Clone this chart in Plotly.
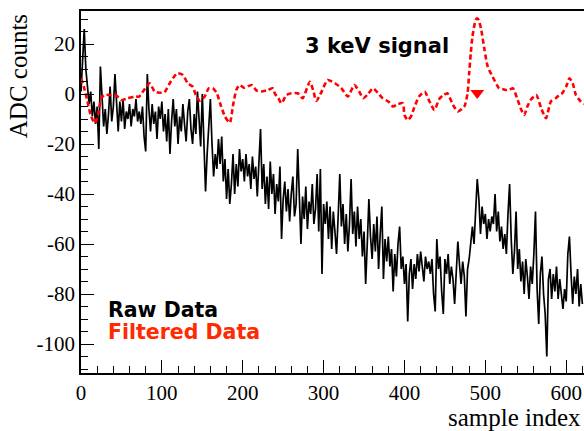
import plotly.graph_objects as go

# ---------------- data ----------------
raw_step = 2
raw_values = [
    1, 14, 26, 10, 3, -4, 1, -9, -3, -12, -5, -22, 11, -2, -13, -6, -16, -8, 3, -11,
    -5, 8, -4, -15, -3, -11, -2, -14, -7, -10, -4, -13, -6, -9, -2, -11, -7, -12, -5, -17,
    -23, 8, -6, -15, -4, -12, -7, -18, -5, -10, -3, -15, -8, -19, -6, -24, -11, -2, -13, -6,
    -20, -9, -15, -4, -12, -19, -7, -2, -14, -20, -8, -16, 1, -12, -21, 0, -18, -39, -24, -12,
    -2, -20, -33, -24, -30, -18, -28, -17, -35, -26, -42, -30, -44, -36, -24, -40, -28, -37, -22, -31,
    -26, -35, -24, -33, -28, -38, -25, -34, -29, -41, -30, -14, -38, -28, -44, -33, -46, -27, -40, -32,
    -48, -36, -43, -29, -58, -42, -35, -47, -38, -51, -40, -33, -49, -44, -22, -45, -60, -41, -50, -37,
    -54, -43, -48, -36, -52, -46, -32, -55, -30, -72, -44, -52, -43, -58, -45, -62, -47, -55, -64, -49,
    -32, -53, -44, -60, -48, -63, -52, -34, -56, -47, -61, -45, -58, -50, -65, -55, -76, -60, -42, -57,
    -66, -52, -63, -49, -70, -56, -45, -74, -58, -67, -57, -69, -62, -79, -64, -73, -60, -53, -70, -65,
    -76, -68, -91, -72, -66, -78, -68, -74, -64, -71, -63, -69, -75, -65, -70, -67, -72, -66, -80, -87,
    -58, -70, -65, -79, -88, -66, -72, -64, -76, -69, -74, -84, -70, -59, -68, -76, -67, -73, -89, -70,
    -66, -58, -53, -60, -47, -34, -42, -56, -45, -52, -48, -58, -50, -55, -49, -52, -40, -55, -47, -59,
    -53, -62, -56, -64, -48, -36, -58, -72, -63, -47, -70, -62, -75, -67, -80, -66, -73, -82, -69, -76,
    -64, -47, -78, -92, -72, -65, -80, -88, -105, -74, -70, -82, -72, -79, -69, -82, -74, -80, -86, -78,
    -83, -64, -57, -72, -84, -73, -80, -70, -85, -76, -84,
]
raw_x = [i * raw_step for i in range(len(raw_values))]

filtered_x = [
    0, 4, 8, 12, 17, 21, 25, 29, 37, 43, 50, 58, 66, 72, 78, 85, 91, 97, 103, 111,
    119, 126, 132, 138, 142, 147, 153, 158, 163, 168, 172, 178, 184, 188, 192, 196, 202, 211, 217, 223,
    231, 237, 240, 244, 248, 254, 260, 268, 274, 283, 287, 291, 297, 305, 314, 322, 330, 338, 344, 349,
    355, 361, 367, 373, 380, 386, 392, 398, 400, 404, 408, 412, 418, 425, 431, 437, 443, 448, 453, 460,
    466, 474, 478, 480, 482, 484, 488, 490, 492, 495, 499, 503, 509, 517, 521, 525, 530, 534, 540, 544,
    548, 552, 556, 563, 569, 575, 581, 587, 591, 595, 600, 604, 608, 612, 618, 622,
]
filtered_values = [
    6.3, 2.3, -3, -8.4, -11.7, -8.4, -1.7, -0.4, -0.4, -0.4, -2.4, -1.7, -1, -1, 1.6, 4.3, 1, 0.5, 0.7, 5,
    8.3, 7.6, 4.3, 3, -0.4, -2.7, -1, 2.3, 2.3, 0.3, -3.7, -9, -11.5, -4.5, 1.6, 3.6, 2.5, 3.6, 1.4, 1,
    1.6, 2.3, 0, -1.7, -3.7, -0.4, 0.3, 0.3, -1.7, 4.9, 1.6, -2.7, 0.6, 5.6, 4.3, 2.3, -1, 3.6, 1, -1.7,
    0, 2.3, 0.5, -1.7, -3, -5, -4, -3.7, -8.4, -10.4, -9, -5.5, -1, 0.9, -3, -6.4, -2, -0.5, 0.3, -4.4,
    -7, -5, 0.3, 8.3, 16.3, 22.9, 29.6, 30.3, 29.5, 25.6, 17.6, 10.9, 6.9, 2.3, 2, 1.6, 1.8, 2.3, -2.4, -6,
    -8.4, -5, -2.4, -0.4, -5.7, -9.7, -3, -1.7, -0.5, 0.3, 3, 6.3, 4.3, -0.4, -3, -4,
]

signal_x = [490]
signal_y = [0.4]

x_tick_vals = [0, 100, 200, 300, 400, 500, 600]
x_tick_text = ["0", "100", "200", "300", "400", "500", "600"]
y_tick_vals = [20, 0, -20, -40, -60, -80, -100]
y_tick_text = ["20", "0", "-20", "-40", "-60", "-80", "-100"]

x_title = "sample index"
y_title = "ADC counts"
signal_label = "3 keV signal"
raw_label = "Raw Data"
filtered_label = "Filtered Data"

# ---------------- figure ----------------
fig = go.Figure()
fig.add_trace(go.Scatter(
    x=raw_x, y=raw_values, mode="lines",
    line=dict(color="black", width=1.7),
    showlegend=False, hoverinfo="skip",
))
fig.add_trace(go.Scatter(
    x=filtered_x, y=filtered_values, mode="lines",
    line=dict(color="#ff0000", width=2.6, dash="5px,3px", shape="spline", smoothing=0.6),
    showlegend=False, hoverinfo="skip",
))
fig.add_trace(go.Scatter(
    x=signal_x, y=signal_y, mode="markers",
    marker=dict(symbol="triangle-down", color="#ff0000", size=12),
    showlegend=False, hoverinfo="skip",
))

serif = "Liberation Serif, Times New Roman, serif"
sans_bold = "DejaVu Sans, sans-serif"

axis_common = dict(
    showgrid=False, zeroline=False,
    showline=True, linecolor="black", linewidth=1.5,
    ticks="inside", ticklen=13, tickwidth=1.2, tickcolor="black",
    tickfont=dict(family=serif, size=21, color="black"),
)

fig.update_layout(
    width=584, height=431,
    margin=dict(l=81, r=0, t=11, b=58),
    paper_bgcolor="white", plot_bgcolor="white",
    hovermode=False,
    xaxis=dict(
        range=[0, 622], tickvals=x_tick_vals, ticktext=x_tick_text, mirror=True,
        minor=dict(dtick=20, tick0=0, ticklen=7, ticks="inside", tickcolor="black", tickwidth=1.2),
        **axis_common,
    ),
    yaxis=dict(
        range=[-111.6, 33.2], tickvals=y_tick_vals, ticktext=y_tick_text, mirror=False,
        minor=dict(dtick=5, tick0=0, ticklen=7, ticks="inside", tickcolor="black", tickwidth=1.2),
        **axis_common,
    ),
    annotations=[
        dict(text=signal_label, xref="paper", yref="paper", x=0.441, y=0.902,
             xanchor="left", yanchor="middle", showarrow=False,
             font=dict(family=sans_bold, size=21, color="black", weight="bold")),
        dict(text=raw_label, xref="paper", yref="paper", x=0.049, y=0.175,
             xanchor="left", yanchor="middle", showarrow=False,
             font=dict(family=sans_bold, size=20.5, color="black", weight="bold")),
        dict(text=filtered_label, xref="paper", yref="paper", x=0.049, y=0.114,
             xanchor="left", yanchor="middle", showarrow=False,
             font=dict(family=sans_bold, size=20.5, color="#ff2a00", weight="bold")),
        dict(text=y_title, xref="paper", yref="paper", x=-0.125, y=0.997,
             xanchor="center", yanchor="top", textangle=-90, showarrow=False,
             font=dict(family=serif, size=25, color="black")),
        dict(text=x_title, xref="paper", yref="paper", x=0.999, y=-0.124,
             xanchor="right", yanchor="middle", showarrow=False,
             font=dict(family=serif, size=25, color="black")),
    ],
)

# remove the default 8px page margin so the 584x431 figure fills the window exactly
fig.write_html("out.html", config={"displayModeBar": False},
               post_script="document.body.style.margin='0';")
